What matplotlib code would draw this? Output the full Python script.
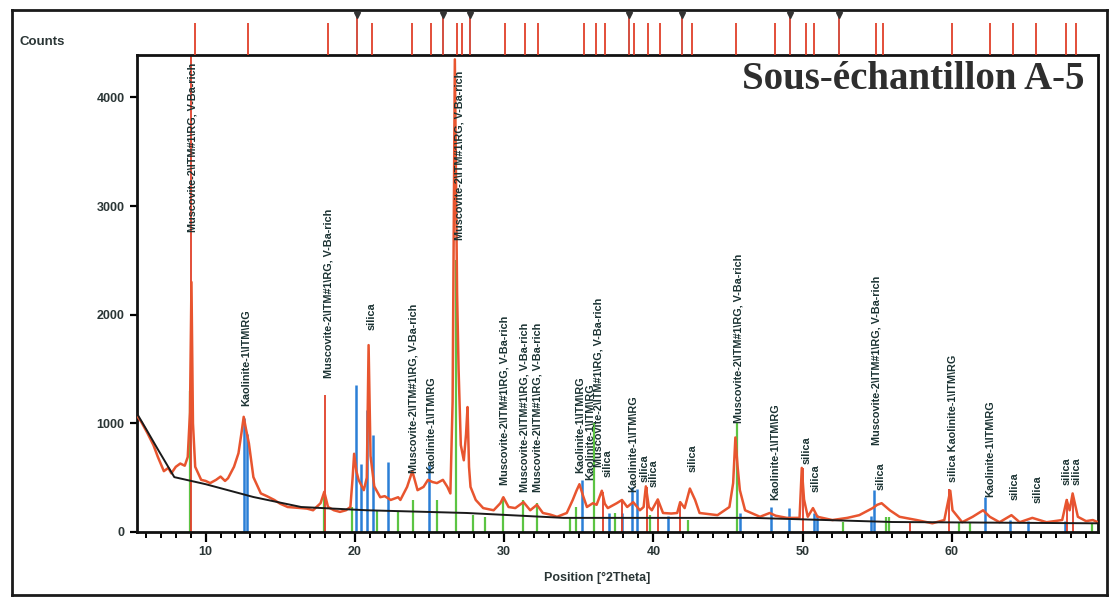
import matplotlib
matplotlib.use("Agg")
import matplotlib.pyplot as plt
from matplotlib.lines import Line2D
from matplotlib.ticker import MultipleLocator

plt.rcParams['font.family'] = ['Liberation Sans', 'DejaVu Sans']

meas_deg = [5.45, 5.7, 6.1, 6.5, 6.8, 7.2, 7.5, 7.7, 8.0, 8.3, 8.6, 8.8, 8.95, 9.05, 9.15,
            9.3, 9.7, 10.0, 10.3, 10.7, 11.0, 11.3, 11.5, 11.9, 12.2, 12.4, 12.55, 12.7, 12.9,
            13.2, 13.7, 14.1, 14.6, 15.0, 15.5, 16.0, 16.4, 16.8, 17.2, 17.7, 17.95, 18.2,
            18.6, 19.0, 19.4, 19.7, 19.85, 19.95, 20.1, 20.25, 20.6, 20.8, 20.92, 21.05, 21.3,
            21.7, 22.0, 22.4, 22.9, 23.05, 23.5, 23.85, 24.2, 24.6, 24.9, 25.2, 25.5, 25.9,
            26.2, 26.4, 26.55, 26.7, 26.85, 26.95, 27.1, 27.3, 27.45, 27.55, 27.65, 27.75,
            28.1, 28.6, 29.3, 29.75, 29.95, 30.3, 30.75, 31.3, 31.75, 32.2, 32.6, 33.1, 33.55,
            34.2, 34.6, 34.85, 35.05, 35.3, 35.55, 35.95, 36.2, 36.55, 36.75, 36.95, 37.55,
            37.9, 38.25, 38.65, 39.1, 39.35, 39.5, 39.7, 39.9, 40.3, 40.65, 41.2, 41.6, 41.8,
            42.1, 42.45, 42.8, 43.1, 44.3, 45.1, 45.35, 45.5, 45.65, 45.8, 46.15, 47.15, 47.8,
            48.2, 48.95, 49.8, 49.95, 50.1, 50.35, 50.7, 51.0, 52.0, 53.0, 53.8, 54.7, 55.0,
            55.3, 55.85, 56.5, 57.65, 58.7, 59.5, 59.9, 60.05, 60.7, 61.4, 62.1, 62.55, 63.2,
            64.0, 64.55, 65.4, 66.35, 67.4, 67.7, 67.9, 68.1, 68.45, 69.0, 69.45, 69.8]
meas_cts = [1060, 1010, 910, 800, 690, 560, 590, 540, 600, 630, 610, 690, 1100, 2300, 1000,
            600, 480, 470, 450, 480, 510, 470, 495, 600, 725, 910, 1060, 950, 815,
            505, 355, 330, 295, 260, 230, 225, 220, 215, 200, 265, 370, 230,
            200, 185, 200, 230, 500, 720, 560, 480, 385, 500, 1720, 700, 420,
            320, 330, 295, 320, 295, 415, 560, 385, 415, 480, 460, 450, 480,
            415, 355, 1200, 4350, 2200, 1500, 800, 660, 900, 1150, 600, 415,
            295, 220, 200, 265, 320, 230, 220, 275, 200, 250, 175, 160, 140,
            175, 295, 380, 440, 330, 230, 265, 250, 380, 260, 220, 265,
            295, 230, 275, 200, 230, 420, 230, 200, 300, 175, 170, 175, 275,
            220, 400, 295, 175, 155, 230, 450, 870, 600, 385, 200, 140, 175,
            150, 130, 130, 590, 300, 140, 220, 140, 110, 130, 155, 220, 250,
            265, 200, 140, 110, 80, 110, 380, 200, 90, 140, 200, 140, 90,
            155, 90, 130, 90, 110, 295, 200, 355, 140, 100, 110, 90]

# fitted background
bg_deg = [5.4, 6.0, 6.8, 7.9, 10.0, 13.2, 16.4, 20.8, 27.5, 34.0, 46.7, 56.0, 69.8]
bg_cts = [1090, 950, 760, 505, 440, 322, 230, 200, 175, 130, 130, 92, 80]

# reference patterns (stick positions / heights)
green_deg = [8.95, 17.9, 19.8, 21.5, 22.9, 23.9, 25.5, 26.8, 27.9, 28.7, 29.9, 31.3, 32.2,
             34.4, 34.8, 36.0, 37.4, 39.8, 42.3, 45.6, 52.7, 55.6, 55.8, 60.5, 61.2, 69.4]
green_cts = [1300, 320, 230, 200, 190, 295, 295, 2500, 155, 140, 320, 295, 265,
             130, 230, 1000, 175, 155, 110, 1000, 90, 140, 140, 80, 80, 80]
blue_deg = [12.6, 12.75, 20.1, 20.4, 20.8, 21.2, 22.2, 25.0, 35.2, 37.0, 37.9, 38.6, 38.9,
            41.0, 45.8, 47.9, 49.1, 50.8, 51.0, 54.6, 54.8, 62.2, 63.9, 65.1, 67.6]
blue_cts = [1050, 900, 1350, 630, 1120, 890, 640, 620, 480, 175, 175, 410, 400,
            150, 175, 230, 220, 175, 160, 150, 390, 320, 110, 100, 100]
red_deg = [9.05, 18.0, 36.6, 37.9, 39.6, 40.3, 41.8, 50.0, 57.2, 59.8, 67.7, 68.1]
red_cts = [4390, 1260, 370, 290, 415, 290, 260, 590, 80, 400, 300, 330]

# reference line strip above the plot
strip_deg = [9.26, 12.81, 18.17, 21.18, 23.86, 25.13, 26.87, 27.2, 30.08, 31.42, 32.29,
             35.37, 36.17, 36.77, 38.71, 39.65, 40.45, 42.6, 45.54, 48.15, 50.23, 50.76,
             54.91, 55.38, 60.0, 62.54, 64.08, 65.62, 67.63, 68.3]
strip_marked = [20.17, 25.93, 27.74, 38.38, 41.93, 49.16, 52.44]

# peak labels
musc = r"Muscovite-2\ITM#1\RG, V-Ba-rich"
kaol = r"Kaolinite-1\ITM\RG"
lab_deg = [9.1, 12.75, 18.2, 21.15, 23.9, 25.15, 27.0, 30.05, 31.35, 32.25, 35.1, 35.75,
           36.35, 36.95, 38.65, 39.4, 40.05, 42.65, 45.7, 48.15, 50.3, 50.85, 54.95, 55.2,
           60.05, 62.55, 64.2, 65.75, 67.7, 68.35]
lab_base = [2760, 1160, 1420, 1860, 545, 545, 2690, 430, 370, 370, 545, 480,
            600, 505, 370, 460, 415, 550, 1000, 295, 630, 370, 800, 385,
            460, 320, 295, 265, 430, 430]
lab_text = [musc, kaol, musc, "silica", musc, kaol, musc, musc, musc, musc, kaol, kaol,
            musc, "silica", kaol, "silica", "silica", "silica", musc, kaol, "silica", "silica",
            musc, "silica", "silica " + kaol, kaol, "silica", "silica", "silica", "silica"]

W, H = 1110, 598
fig = plt.figure(figsize=(W / 100, H / 100), dpi=100, facecolor='white')

x0, x1 = 137 / W, 1098 / W
y_bot, y_top, y_strip = 1 - 532 / H, 1 - 55 / H, 1 - 10 / H
ax = fig.add_axes([x0, y_bot, x1 - x0, y_top - y_bot])
strip = fig.add_axes([x0, y_top, x1 - x0, y_strip - y_top])

xlim = (5.4, 69.8)

# sticks
ax.vlines(green_deg, 0, green_cts, color='#5cc443', lw=1.6, zorder=2)
ax.vlines(blue_deg, 0, blue_cts, color='#2b7fd6', lw=1.8, zorder=2)
ax.vlines(red_deg, 0, red_cts, color='#e0402a', lw=1.3, zorder=2)
ax.plot(meas_deg, meas_cts, color='#e8552f', lw=1.8, zorder=3)
ax.plot(bg_deg, bg_cts, color='#1a1a1a', lw=1.4, zorder=4)

for d, b, t in zip(lab_deg, lab_base, lab_text):
    ax.text(d, b, t, rotation=90, ha='center', va='bottom', fontsize=7.8,
            fontweight='bold', color='#1c3333', zorder=5)

ax.text(0.986, 0.948, 'Sous-échantillon A-5', transform=ax.transAxes, ha='right',
        va='center', fontsize=28, fontweight='bold', family='Liberation Serif',
        color='#2e2e2e', zorder=6)

ax.set_xlim(*xlim)
ax.set_ylim(0, 4390)
ax.set_yticks([0, 1000, 2000, 3000, 4000])
ax.set_xticks([10, 20, 30, 40, 50, 60])
ax.xaxis.set_minor_locator(MultipleLocator(1))
for s in ax.spines.values():
    s.set_linewidth(2)
    s.set_color('#111111')
ax.tick_params(axis='y', direction='out', length=5, width=1.6, labelsize=9, pad=4,
               labelcolor='#2a3535')
ax.tick_params(axis='x', which='major', direction='out', length=7, width=1.6, labelsize=9,
               pad=3, labelcolor='#2a3535')
ax.tick_params(axis='x', which='minor', direction='out', length=4, width=1.4)
for lbl in ax.get_xticklabels() + ax.get_yticklabels():
    lbl.set_fontweight('bold')

# top strip with reference lines
strip.set_xlim(*xlim)
strip.set_ylim(0, 1)
strip.axis('off')
strip.vlines(strip_deg, 0, 0.72, color='#e0402a', lw=1.3)
strip.vlines(strip_marked, 0, 0.95, color='#d04030', lw=1.3)
strip.plot(strip_marked, [0.9] * len(strip_marked), 'v', color='#333333', ms=4.5,
           clip_on=False)

fig.text(597 / W, 1 - 578 / H, 'Position [°2Theta]', ha='center', va='center',
         fontsize=9, fontweight='bold', color='#2a3535')
fig.text(20 / W, 1 - 42 / H, 'Counts', ha='left', va='center', fontsize=9.5,
         fontweight='bold', color='#2a3535')

# outer frame
fl, fr, fb = 12 / W, 1107 / W, 1 - 595 / H
for xs, ys in [([fl, fl], [fb, y_strip]), ([fl, fr], [y_strip, y_strip]),
               ([fl, fr], [fb, fb]), ([fr, fr], [fb, y_strip])]:
    fig.add_artist(Line2D(xs, ys, transform=fig.transFigure, color='#1a1a1a', lw=2))

fig.savefig('out.png', dpi=100, facecolor='white')
